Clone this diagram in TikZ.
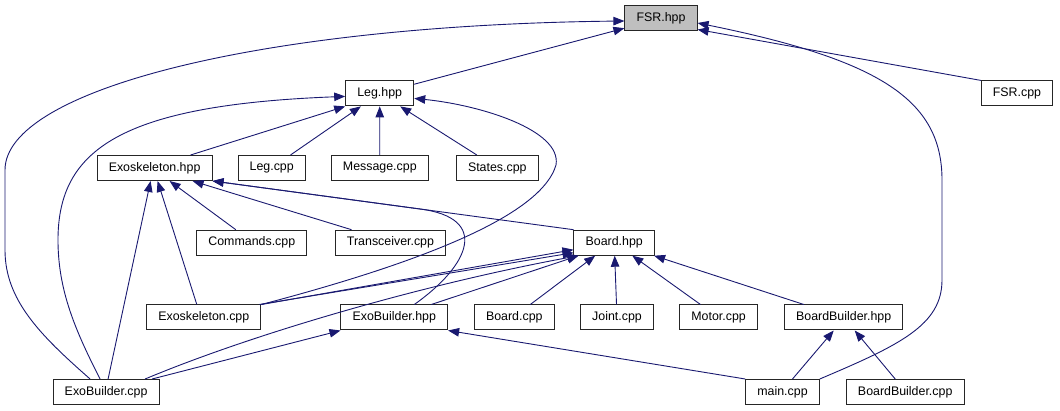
\documentclass[tikz,border=0pt]{standalone}
\usepackage{fontspec}
\setmainfont{Liberation Sans}
\usetikzlibrary{arrows.meta}
\definecolor{edgeblue}{HTML}{191970}
\definecolor{rootgray}{HTML}{BFBFBF}

\begin{document}
\begin{tikzpicture}[
    x=1pt, y=-1pt,
    file/.style={rectangle, draw=black!85, line width=1pt, fill=white, minimum height=25pt, inner xsep=11.6pt, inner ysep=0pt, font=\fontsize{12.4}{14}\selectfont},
    root/.style={file, fill=rootgray},
    dep/.style={-{Triangle[length=11pt, width=8.5pt]}, draw=edgeblue, line width=0.9pt}
]
\useasboundingbox (0,0) rectangle (1060,411);

% Row 1
\node[root] (fsrhpp) at (661,18.5) {FSR.hpp};

% Row 2
\node[file] (leghpp) at (379.7,93.4) {Leg.hpp};
\node[file] (fsrcpp) at (1017,93.4) {FSR.cpp};

% Row 3
\node[file] (exohpp) at (154.6,168) {Exoskeleton.hpp};
\node[file] (legcpp) at (271.7,168) {Leg.cpp};
\node[file] (msgcpp) at (379.8,168) {Message.cpp};
\node[file] (statescpp) at (497.3,168) {States.cpp};

% Row 4
\node[file] (cmdcpp) at (251.8,242.7) {Commands.cpp};
\node[file] (trxcpp) at (390.5,242.7) {Transceiver.cpp};
\node[file] (boardhpp) at (614.2,242.7) {Board.hpp};

% Row 5
\node[file] (exocpp) at (203.8,317.5) {Exoskeleton.cpp};
\node[file] (exobhpp) at (394.3,317.5) {ExoBuilder.hpp};
\node[file] (boardcpp) at (514.3,317.5) {Board.cpp};
\node[file] (jointcpp) at (617,317.5) {Joint.cpp};
\node[file] (motorcpp) at (718.6,317.5) {Motor.cpp};
\node[file] (bbhpp) at (843.7,317.5) {BoardBuilder.hpp};

% Row 6
\node[file] (exobcpp) at (106.1,392) {ExoBuilder.cpp};
\node[file] (maincpp) at (782.5,392) {main.cpp};
\node[file] (bbcpp) at (905.2,392) {BoardBuilder.cpp};

% Into FSR.hpp
\draw[dep] (leghpp) -- (fsrhpp);
\draw[dep] (fsrcpp.north west) -- ([yshift=2pt]fsrhpp.south east);
\draw[dep] (maincpp.north east) .. controls (900,345) and (942,325) .. (942,280) -- (942,180) .. controls (942,100) and (880,60) .. ([yshift=-4.5pt]fsrhpp.east);
\draw[dep] ([xshift=-16pt]exobcpp.north) .. controls (40,335) and (5,300) .. (5,250) -- (5,170) .. controls (5,90) and (260,25) .. ([yshift=-2.5pt]fsrhpp.west);

% Into Leg.hpp
\draw[dep] ([xshift=36pt]exohpp.north) -- (leghpp.south west);
\draw[dep] (legcpp) -- (leghpp);
\draw[dep] (msgcpp) -- (leghpp);
\draw[dep] (statescpp) -- (leghpp);
\draw[dep] ([xshift=-6pt]exobcpp.north) .. controls (75,330) and (58,290) .. (58,240) .. controls (58,150) and (120,105) .. ([yshift=-3pt]leghpp.west);
\draw[dep] (exocpp.north east) .. controls (400,268) and (540,220) .. (556,165) .. controls (562,130) and (480,105) .. ([yshift=-5pt]leghpp.east);

% Into Exoskeleton.hpp
\draw[dep] ([xshift=2pt]exobcpp.north) -- ([xshift=-4pt]exohpp.south);
\draw[dep] ([xshift=-7pt]exocpp.north) -- ([xshift=3pt]exohpp.south);
\draw[dep] ([xshift=-16pt]cmdcpp.north) -- ([xshift=15pt]exohpp.south);
\draw[dep] ([xshift=-39pt]trxcpp.north) -- ([xshift=38pt]exohpp.south);
\draw[dep] (boardhpp.north west) -- (exohpp.south east);
\draw[dep] ([xshift=20pt]exobhpp.north) .. controls (470,265) and (490,218) .. (420,209) -- (exohpp.south east);

% Into Board.hpp
\draw[dep] (exocpp.north east) -- ([yshift=6pt]boardhpp.south west);
\draw[dep] ([xshift=-2pt]exocpp.north east) -- ([yshift=3pt]boardhpp.south west);
\draw[dep] ([xshift=39pt]exobcpp.north) .. controls (250,335) and (420,285) .. ([xshift=5pt]boardhpp.south west);
\draw[dep] ([xshift=37pt]exobhpp.north) -- ([xshift=5pt]boardhpp.south west);
\draw[dep] ([xshift=16pt]boardcpp.north) -- ([xshift=-19pt]boardhpp.south);
\draw[dep] (jointcpp) -- (boardhpp);
\draw[dep] (motorcpp) -- (boardhpp);
\draw[dep] (bbhpp) -- (boardhpp);

% Into ExoBuilder.hpp
\draw[dep] ([xshift=46pt]exobcpp.north) -- (exobhpp.south west);
\draw[dep] (maincpp.north west) -- (exobhpp.south east);

% Into BoardBuilder.hpp
\draw[dep] ([xshift=10pt]maincpp.north) -- ([xshift=-10pt]bbhpp.south);
\draw[dep] ([xshift=-10pt]bbcpp.north) -- ([xshift=11pt]bbhpp.south);

\end{tikzpicture}
\end{document}
